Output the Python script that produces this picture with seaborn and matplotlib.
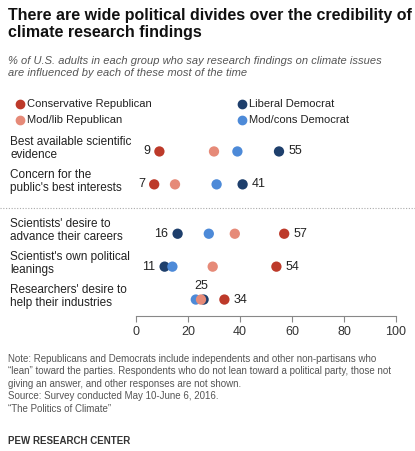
import matplotlib
matplotlib.use("Agg")
import matplotlib.pyplot as plt
import seaborn as sns
import pandas as pd

categories = ["Best available scientific\nevidence", "Concern for the\npublic's best interests",
              "Scientists' desire to\nadvance their careers", "Scientist's own political\nleanings",
              "Researchers' desire to\nhelp their industries"]
cons_rep = [9, 7, 57, 54, 34]
modlib_rep = [30, 15, 38, 29.5, 25]
lib_dem = [55, 41, 16, 11, 26]
modcons_dem = [39, 31, 28, 14, 23]
series = ["Conservative Republican", "Mod/lib Republican", "Liberal Democrat", "Mod/cons Democrat"]
colors = ["#BD3A2A", "#E68A78", "#1E3F6C", "#4D8AD8"]

ypos = [0, 1, 2.5, 3.5, 4.5]
rows = []
for name, vals in zip(series, [cons_rep, modlib_rep, lib_dem, modcons_dem]):
    for i, v in enumerate(vals):
        rows.append({"series": name, "value": v, "y": ypos[i]})
df = pd.DataFrame(rows)

sns.set_style("white")
plt.rcParams['font.family'] = ['Liberation Sans', 'DejaVu Sans']
fig = plt.figure(figsize=(4.15, 4.51), dpi=100)
ax = fig.add_axes([136/415, 1-316/451, 260/415, 181/451])
order = [2, 3, 1, 0]
for k in order:
    d = df[df.series == series[k]]
    sns.scatterplot(data=d, x="value", y="y", color=colors[k], s=55, edgecolor="none", ax=ax, zorder=3)
ax.set_xlim(0, 100)
ax.set_ylim(5.0, -0.5)
ax.set_xlabel(""); ax.set_ylabel("")
ax.set_yticks([])
ax.set_xticks([0, 20, 40, 60, 80, 100])
ax.tick_params(axis="x", labelsize=9, length=4, color="#888888", colors="#333333", direction="out", bottom=True)
for s in ["top", "right", "left"]:
    ax.spines[s].set_visible(False)
ax.spines["bottom"].set_color("#888888")

all_vals = [cons_rep, modlib_rep, lib_dem, modcons_dem]
for i in range(4):
    lo = min(v[i] for v in all_vals); hi = max(v[i] for v in all_vals)
    ax.text(lo - 3.5, ypos[i], f"{lo:g}", ha="right", va="center", fontsize=9, color="#222222")
    ax.text(hi + 3.5, ypos[i], f"{hi:g}", ha="left", va="center", fontsize=9, color="#222222")
ax.text(modlib_rep[4], ypos[4] - 0.42, f"{modlib_rep[4]:g}", ha="center", va="center", fontsize=9, color="#222222")
ax.text(cons_rep[4] + 3.5, ypos[4], f"{cons_rep[4]:g}", ha="left", va="center", fontsize=9, color="#222222")

for i, c in enumerate(categories):
    py = 316 - (5.0 - ypos[i]) / 5.5 * 181
    fig.text(10/415, 1 - (py - 3)/451, c, ha="left", va="center", fontsize=8.5, color="#222222", linespacing=1.15)

fig.add_artist(plt.Line2D([0, 1], [1-208/451]*2, color="#aaaaaa", lw=0.8, ls=(0, (1, 1.5))))

fig.text(8/415, 1-8/451, "There are wide political divides over the credibility of\nclimate research findings",
         ha="left", va="top", fontsize=11.5, fontweight="bold", color="#111111", linespacing=1.2)
fig.text(8/415, 1-56/451, "% of U.S. adults in each group who say research findings on climate issues\nare influenced by each of these most of the time",
         ha="left", va="top", fontsize=8, style="italic", color="#555555", linespacing=1.2)

lx = [20, 242]; ly = [104, 120]
for k in range(4):
    x = lx[0] if k in (0, 1) else lx[1]
    y = ly[0] if k in (0, 2) else ly[1]
    fig.add_artist(plt.Line2D([x/415], [1-y/451], marker="o", color=colors[k], ms=6, ls="none"))
    fig.text((x+7)/415, 1-y/451, series[k], ha="left", va="center", fontsize=8, color="#222222")

fig.text(8/415, 1-354/451, "Note: Republicans and Democrats include independents and other non-partisans who\n\u201clean\u201d toward the parties. Respondents who do not lean toward a political party, those not\ngiving an answer, and other responses are not shown.\nSource: Survey conducted May 10-June 6, 2016.\n\u201cThe Politics of Climate\u201d",
         ha="left", va="top", fontsize=7, color="#555555", linespacing=1.3)
fig.text(8/415, 1-436/451, "PEW RESEARCH CENTER", ha="left", va="top", fontsize=7, fontweight="bold", color="#333333")

fig.savefig("out.png", dpi=100)
